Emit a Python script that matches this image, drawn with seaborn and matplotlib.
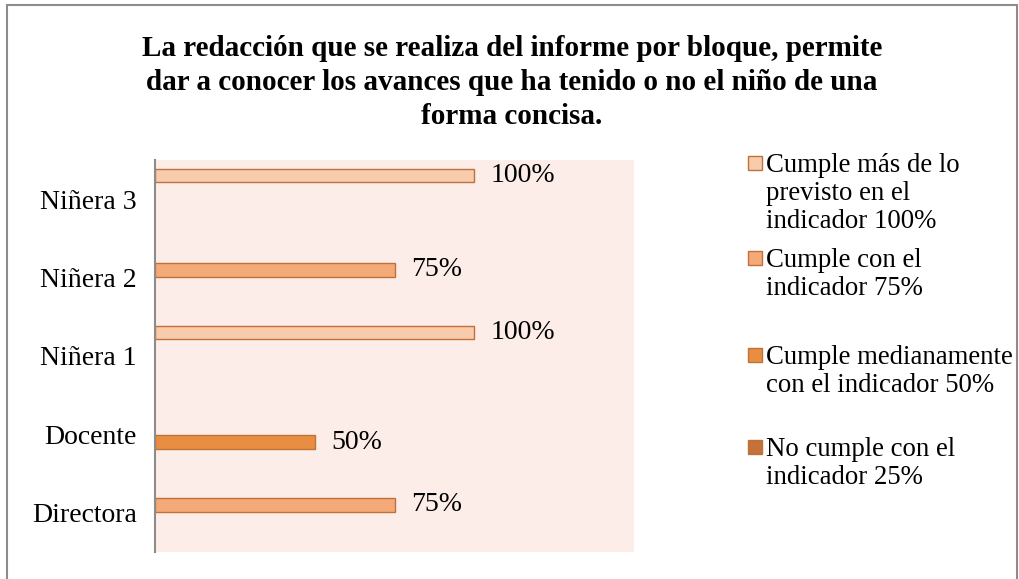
import seaborn as sns
import matplotlib.pyplot as plt
import pandas as pd
from matplotlib.patches import Rectangle

# categories (top to bottom) and the value each one reached
CATEGORIES = ["Niñera 3", "Niñera 2", "Niñera 1", "Docente", "Directora"]
VALUES = [1.00, 0.75, 1.00, 0.50, 0.75]
LEVEL_OF = ["100%", "75%", "100%", "50%", "75%"]

LEVELS = ["100%", "75%", "50%", "25%"]
LEVEL_LABELS = [
    "Cumple más de lo\nprevisto en el\nindicador 100%",
    "Cumple con el\nindicador 75%",
    "Cumple medianamente\ncon el indicador 50%",
    "No cumple con el\nindicador 25%",
]
COLORS = ["#F8CBAD", "#F4AA78", "#E88E42", "#C4713A"]
EDGE = "#C0713A"

df = pd.DataFrame({"persona": CATEGORIES, "valor": VALUES, "nivel": LEVEL_OF})

sns.set_style("white")
plt.rcParams["font.family"] = ["Liberation Serif", "DejaVu Serif"]
plt.rcParams["text.color"] = "black"
plt.rcParams["ytick.color"] = "black"
plt.rcParams["ytick.labelcolor"] = "black"

fig = plt.figure(figsize=(10.19, 5.79), dpi=100)
ax = fig.add_axes([155 / 1019, 1 - 552 / 579, 479 / 1019, 392 / 579])
ax.set_facecolor("#FCEDE8")

sns.barplot(data=df, x="valor", y="persona", hue="nivel", order=CATEGORIES,
            hue_order=LEVELS, palette=dict(zip(LEVELS, COLORS)), orient="h",
            dodge=True, saturation=1, width=0.8, gap=0.14, edgecolor=EDGE,
            linewidth=1.0, errorbar=None, legend=False, ax=ax)

for cont in ax.containers:
    ax.bar_label(cont, labels=[f"{v * 100:.0f}%" if v > 0 else "" for v in cont.datavalues],
                 padding=12, fontsize=20, color="black")

ax.set_xlim(0, 1.5)
ax.set_xlabel("")
ax.set_ylabel("")
ax.set_xticks([])
ax.tick_params(axis="y", length=0, pad=13, labelsize=20, labelcolor="black")
for side in ["top", "right", "bottom"]:
    ax.spines[side].set_visible(False)
ax.spines["left"].set_color("#8C8C8C")
ax.spines["left"].set_linewidth(1.5)

fig.text(0.5025, 1 - 35 / 579,
         "La redacción que se realiza del informe por bloque, permite\n"
         "dar a conocer los avances que ha tenido o no el niño de una\n"
         "forma concisa.",
         ha="center", va="top", fontsize=21, fontweight="bold", linespacing=1.33,
         color="black")

# legend drawn entry by entry so the key sits on the first line
entry_y = [163, 258, 355, 447]
for lab, col, y in zip(LEVEL_LABELS, COLORS, entry_y):
    fig.add_artist(Rectangle((748 / 1019, 1 - (y + 7) / 579), 14 / 1019, 14 / 579,
                             transform=fig.transFigure, facecolor=col,
                             edgecolor=EDGE, linewidth=1.0))
    fig.text(766 / 1019, 1 - (y - 10) / 579, lab, ha="left", va="top",
             fontsize=19.3, linespacing=1.15, color="black")

fig.add_artist(Rectangle((7 / 1019, -0.02), 1010 / 1019, 1.02 - 5 / 579,
                         transform=fig.transFigure, fill=False,
                         edgecolor="#8C8C8C", linewidth=1.5))

fig.savefig("out.png", dpi=100)
